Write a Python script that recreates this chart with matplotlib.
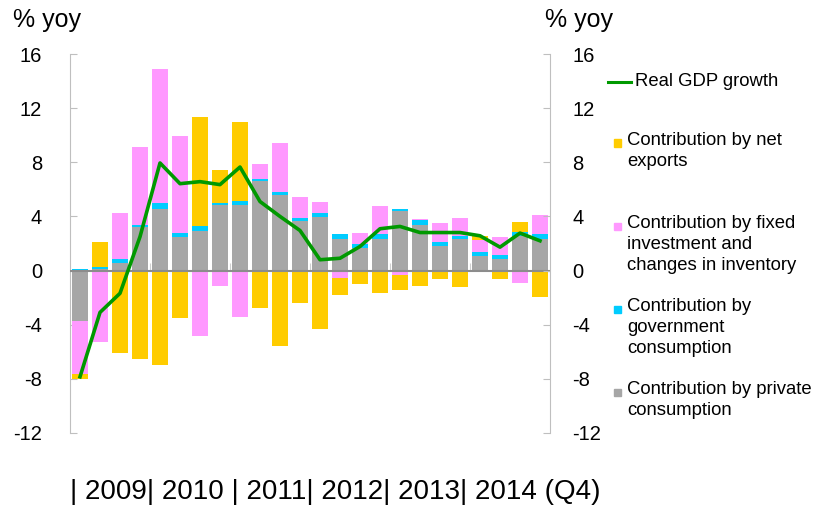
import matplotlib
matplotlib.use('Agg')
import matplotlib.pyplot as plt
from matplotlib.patches import Rectangle
from matplotlib.lines import Line2D
import numpy as np

plt.rcParams['font.family'] = ['Liberation Sans', 'DejaVu Sans']
plt.rcParams['axes.unicode_minus'] = False

# quarterly data 2009Q1 .. 2014Q4, % yoy contributions
quarters = [f"{y}Q{q}" for y in range(2009, 2015) for q in range(1, 5)]
private = [-3.73, 0.10, 0.54, 3.19, 4.57, 2.47, 2.96, 4.81, 4.86, 6.59, 5.60, 3.68,
           3.95, 2.35, 1.68, 2.35, 4.37, 3.38, 1.78, 2.35, 1.09, 0.84, 2.59, 2.35]
government = [0.08, 0.20, 0.32, 0.20, 0.40, 0.30, 0.35, 0.17, 0.30, 0.20, 0.22, 0.20,
              0.30, 0.32, 0.30, 0.32, 0.20, 0.32, 0.32, 0.22, 0.30, 0.32, 0.27, 0.32]
investment = [-3.88, -5.26, 3.43, 5.73, 9.90, 7.16, -4.84, -1.14, -3.46, 1.09, 3.60, 1.53,
              0.81, -0.52, 0.79, 2.12, -0.32, 0.10, 1.38, 1.33, 0.89, 1.31, -0.91, 1.43]
net_exports = [-0.37, 1.80, -6.07, -6.54, -6.94, -3.53, 8.02, 2.42, 5.85, -2.74, -5.56, -2.42,
               -4.35, -1.31, -1.01, -1.63, -1.14, -1.14, -0.64, -1.23, 0.30, -0.62, 0.72, -1.93]
gdp = [-7.85, -3.09, -1.68, 2.50, 7.95, 6.42, 6.57, 6.35, 7.65, 5.10, 4.00, 2.96,
       0.80, 0.91, 1.78, 3.09, 3.26, 2.81, 2.81, 2.81, 2.57, 1.73, 2.77, 2.20]

series = [private, government, investment, net_exports]
colors = ['#A6A6A6', '#00CCFF', '#FF99FF', '#FFCC00']

fig = plt.figure(figsize=(8.13, 5.13), dpi=100)
ax = fig.add_axes([70/813, 1-433/513, 480/813, 379/513])

x = np.arange(len(quarters))
pos_bottom = np.zeros(len(x))
neg_bottom = np.zeros(len(x))
for vals, c in zip(series, colors):
    v = np.array(vals)
    bottom = np.where(v >= 0, pos_bottom, neg_bottom)
    ax.bar(x, v, 0.82, bottom=bottom, color=c, zorder=2)
    pos_bottom += np.where(v >= 0, v, 0)
    neg_bottom += np.where(v < 0, v, 0)

ax.axhline(0, color='#8C8C8C', lw=1.5, zorder=3)
ax.plot(x, gdp, color='#009900', lw=2.6, zorder=4)

ax.set_xlim(-0.5, len(x) - 0.5)
ax.set_ylim(-12, 16)
ax.set_yticks(range(-12, 17, 4))
# year separators sit on the zero line
ax.set_xticks([3.5, 7.5, 11.5, 15.5, 19.5])
ax.set_xticklabels([])
ax.spines['bottom'].set_position(('data', 0))
ax.spines['bottom'].set_visible(False)
ax.spines['top'].set_visible(False)
ax.spines['right'].set_visible(False)
ax.spines['left'].set_color('#BFBFBF')
ax.tick_params(axis='x', direction='in', length=6, color='#D0D0D0')
ax.tick_params(axis='y', direction='in', length=5, color='#BFBFBF',
               labelsize=14.5, pad=20)

# right-hand axis, same scale
ax2 = ax.twinx()
ax2.set_ylim(-12, 16)
ax2.set_yticks(range(-12, 17, 4))
for s in ['top', 'bottom', 'left']:
    ax2.spines[s].set_visible(False)
ax2.spines['right'].set_color('#BFBFBF')
ax2.tick_params(axis='y', direction='in', length=5, color='#BFBFBF',
                labelsize=14.5, pad=16)

fig.text(13/813, 1-20/513, '% yoy', fontsize=18, va='center', ha='left')
fig.text(545/813, 1-20/513, '% yoy', fontsize=18, va='center', ha='left')
fig.text(70/813, 1-492/513, '| 2009| 2010 | 2011| 2012| 2013| 2014 (Q4)',
         fontsize=20, va='center', ha='left')

# legend drawn by hand to match the layout
fs = 13.3
fig.add_artist(Line2D([608/813, 631/813], [1-82/513, 1-82/513],
                      color='#009900', lw=2.2, transform=fig.transFigure))
fig.text(635/813, 1-82/513, 'Real GDP growth', fontsize=fs, va='center')
entries = [
    ('#FFCC00', 143, 'Contribution by net\nexports'),
    ('#FF99FF', 226, 'Contribution by fixed\ninvestment and\nchanges in inventory'),
    ('#00CCFF', 309, 'Contribution by\ngovernment\nconsumption'),
    ('#A6A6A6', 392, 'Contribution by private\nconsumption'),
]
for c, ypx, txt in entries:
    fig.add_artist(Rectangle((614/813, 1-(ypx+3.5)/513), 7/813, 7/513,
                             color=c, transform=fig.transFigure))
    fig.text(627/813, 1-(ypx-11)/513, txt, fontsize=fs, va='top',
             linespacing=1.3)

plt.savefig('out.png', dpi=100)
